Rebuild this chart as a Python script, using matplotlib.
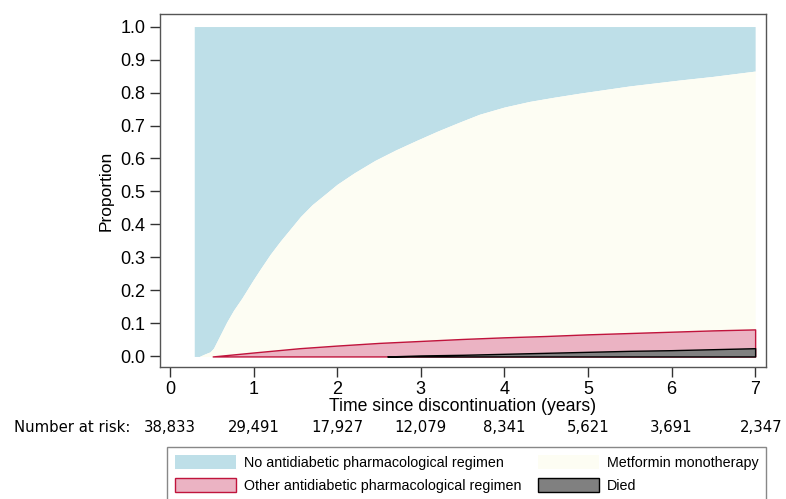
import matplotlib.pyplot as plt
from matplotlib.patches import Patch

# stacked proportions over time since discontinuation
# boundary between metformin and no regimen (cumulative of died + other + metformin)
t_met = [0.29, 0.35, 0.42, 0.48, 0.52, 0.56, 0.62, 0.68, 0.76, 0.86, 0.99, 1.08,
         1.2, 1.32, 1.45, 1.56, 1.7, 1.87, 2.0, 2.2, 2.45, 2.7, 2.95, 3.2, 3.45, 3.7,
         4.0, 4.3, 4.6, 4.9, 5.5, 6.1, 6.5, 7.0]
cum_met = [0.0, 0.0, 0.008, 0.014, 0.025, 0.045, 0.075, 0.105, 0.14, 0.177, 0.23, 0.265,
           0.31, 0.35, 0.39, 0.424, 0.46, 0.495, 0.522, 0.556, 0.594, 0.626, 0.655, 0.683,
           0.709, 0.734, 0.756, 0.773, 0.786, 0.798, 0.82, 0.838, 0.849, 0.865]

# top of "other antidiabetic" band (died + other)
t_oth = [0.51, 1.0, 1.55, 2.0, 2.5, 3.0, 3.5, 4.0, 4.5, 5.0, 5.5, 6.0, 6.5, 7.0]
cum_oth = [0.0, 0.012, 0.025, 0.033, 0.041, 0.047, 0.053, 0.058, 0.062, 0.067, 0.071,
           0.075, 0.079, 0.082]

# died
t_died = [2.6, 3.0, 3.5, 4.0, 4.5, 5.0, 5.5, 6.0, 6.5, 7.0]
cum_died = [0.0, 0.003, 0.005, 0.008, 0.011, 0.014, 0.017, 0.019, 0.022, 0.025]

risk_times = [0, 1, 2, 3, 4, 5, 6, 7]
risk_counts = ["38,833", "29,491", "17,927", "12,079", "8,341", "5,621", "3,691", "2,347"]

labels = ["No antidiabetic pharmacological regimen",
          "Other antidiabetic pharmacological regimen",
          "Metformin monotherapy",
          "Died"]

c_none = "#bedfe8"
c_met = "#fdfdf3"
c_oth = "#ebb3c3"
c_oth_edge = "#c0143c"
c_died = "#808080"

plt.rcParams['font.family'] = ['Liberation Sans', 'DejaVu Sans']

fig = plt.figure(figsize=(7.86, 4.99), dpi=100)
ax = fig.add_axes([160 / 786, 1 - 367 / 499, 606 / 786, 353 / 499])

ax.fill_between(t_met, cum_met, 1.0, color=c_none, linewidth=0)
ax.fill_between(t_met, 0, cum_met, color=c_met, linewidth=0)
ax.fill_between(t_oth, 0, cum_oth, facecolor=c_oth, edgecolor=c_oth_edge, linewidth=1)
ax.fill_between(t_died, 0, cum_died, facecolor=c_died, edgecolor="black", linewidth=1)

ax.set_xlim(-0.12, 7.13)
ax.set_ylim(-0.032, 1.038)
ax.set_xticks(range(0, 8))
ax.set_yticks([i / 10 for i in range(11)])
ax.set_yticklabels([f"{i / 10:.1f}" for i in range(11)])
ax.tick_params(direction='out', length=7, width=1, labelsize=13, color='#333333')
ax.tick_params(axis='x', pad=3)
for s in ax.spines.values():
    s.set_color('#555555')
    s.set_linewidth(1)

ax.set_xlabel("Time since discontinuation (years)", fontsize=12.7, labelpad=0)
ax.set_ylabel("Proportion", fontsize=12.5, labelpad=5)

# number at risk row
y_risk = 1 - 427 / 499
fig.text(14 / 786, y_risk, "Number at risk:", fontsize=10.7, family='DejaVu Sans', va='center')
for t, n in zip(risk_times, risk_counts):
    xd = ax.transData.transform((t, 0))[0]
    xf = fig.transFigure.inverted().transform((xd, 0))[0]
    if t == 7:
        xf += 6 / 786
    fig.text(xf, y_risk, n, fontsize=10.7, family='DejaVu Sans', ha='center', va='center')

handles = [Patch(facecolor=c_none, edgecolor='none'),
           Patch(facecolor=c_oth, edgecolor=c_oth_edge, linewidth=1),
           Patch(facecolor=c_met, edgecolor='none'),
           Patch(facecolor=c_died, edgecolor='black', linewidth=1)]
leg = fig.legend(handles, labels, ncol=2, mode='expand',
                 bbox_to_anchor=(167 / 786, 1 - 510 / 499, 599 / 786, 63 / 499),
                 loc='upper left', borderaxespad=0, fontsize=10.3,
                 handlelength=4.3, handleheight=1.1,
                 labelspacing=0.6, borderpad=0.55, handletextpad=0.5,
                 fancybox=False, framealpha=1, edgecolor='#888888')
leg.get_frame().set_linewidth(1)

fig.savefig("out.png", dpi=100)
